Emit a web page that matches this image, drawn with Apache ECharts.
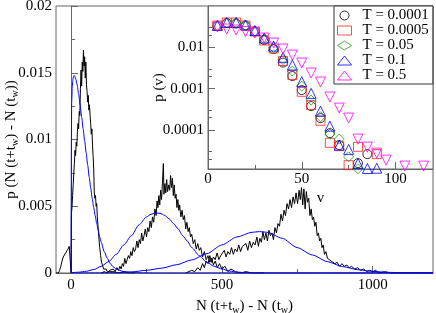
<!DOCTYPE html>
<html>
<head>
<meta charset="utf-8">
<script src="https://cdn.jsdelivr.net/npm/echarts@6/dist/echarts.min.js"></script>
<style>html,body{margin:0;padding:0;background:#fff}#c{width:436px;height:313px}</style>
</head>
<body>
<div id="c"></div>
<script>
// ---------------- main plot data ----------------
const blackA_N = [-50,-42,-38,-34,-30,-26,-22,-18,-14,-10,-6,-3,-1,0,1,3,5,7,9,11,13,15,17,19,21,23,25,27,29,31,33,35,37,39,41,43,45,47,49,51,53,55,57,59,61,63,65,67,69,71,73,75,77,79,81,83,85,87,89,91,93,95,98,101,104,108,112,116,120,126,132,140,150,160,175,190,210];
const blackA_p = [0,0,0.0002,0.0005,0.0009,0.0012,0.0013,0.0015,0.0014,0.0018,0.0020,0.0021,0.0019,0,0.0044,0.0049,0.0058,0.0066,0.0075,0.0082,0.0092,0.0088,0.0098,0.0095,0.0106,0.0112,0.0108,0.0121,0.0118,0.0138,0.0152,0.0140,0.0158,0.0151,0.0167,0.0155,0.0162,0.0146,0.0158,0.0141,0.0136,0.0128,0.0133,0.0122,0.0126,0.0118,0.0112,0.0104,0.0108,0.0096,0.0088,0.0078,0.0060,0.0056,0.0058,0.0050,0.0052,0.0042,0.0036,0.0030,0.0024,0.0019,0.0013,0.0008,0.0006,0.0003,0.0002,0.0003,0.0001,0.0002,0.0001,0.0001,0.00005,0,0.0001,0,0];

const blackB_N = [100,110,120,128,134,140,146,152,157,162,166,170,174,178,182,186,190,194,198,202,206,210,214,218,222,226,230,234,238,242,246,250,254,258,262,266,270,274,278,282,285,288,291,294,297,300,303,306,308,311,314,317,320,324,327,330,333,336,339,342,345,348,351,354,357,360,364,368,372,376,380,384,388,392,396,400,405,410,415,420,425,430,436,442,448,454,460,466,472,478,485,492,500,510,520,530,545,560,580,600,640];
const blackB_p = [0,0.0001,0,0.0002,0.0001,0.0003,0.0001,0.0004,0.0002,0.0005,0.0003,0.0007,0.0005,0.0011,0.0007,0.0010,0.0013,0.0011,0.0016,0.0013,0.0019,0.0016,0.0018,0.0024,0.0019,0.0025,0.0022,0.0030,0.0024,0.0028,0.0033,0.0027,0.0034,0.0031,0.0039,0.0034,0.0042,0.0038,0.0048,0.0043,0.0054,0.0049,0.0058,0.0051,0.0062,0.0055,0.0068,0.0082,0.0059,0.0067,0.0060,0.0070,0.0061,0.0066,0.0062,0.0073,0.0064,0.0071,0.0058,0.0066,0.0056,0.0059,0.0049,0.0055,0.0047,0.0051,0.0042,0.0047,0.0040,0.0043,0.0033,0.0038,0.0031,0.0034,0.0027,0.0029,0.0022,0.0025,0.0018,0.0022,0.0017,0.0019,0.0012,0.0016,0.0010,0.0013,0.0008,0.0011,0.0006,0.0009,0.0004,0.0007,0.0003,0.0005,0.0001,0.0003,0.0001,0,0.0001,0,0];

const blackC_N = [380,400,410,420,428,436,442,448,454,460,466,472,478,484,490,496,502,508,514,520,526,532,538,544,550,556,562,568,574,580,586,592,598,604,610,616,621,626,631,636,641,646,651,656,661,666,671,676,681,686,691,696,701,706,711,716,721,726,731,736,741,746,751,756,760,764,768,772,776,780,784,788,792,796,800,804,808,812,816,820,824,828,832,836,840,845,850,856,862,868,875,882,890,898,906,914,922,930,940,950,960,970,980,990,1000,1010,1020,1040,1060,1200];
const blackC_p = [0,0.0002,0.0001,0.0004,0.0002,0.0007,0.0004,0.0009,0.0007,0.0013,0.0008,0.0012,0.0010,0.0015,0.0010,0.0013,0.0012,0.0017,0.0012,0.0016,0.0014,0.0019,0.0014,0.0018,0.0016,0.0021,0.0016,0.0020,0.0019,0.0022,0.0017,0.0024,0.0019,0.0023,0.0021,0.0027,0.0020,0.0026,0.0023,0.0031,0.0025,0.0030,0.0024,0.0032,0.0028,0.0030,0.0025,0.0034,0.0030,0.0037,0.0035,0.0044,0.0039,0.0047,0.0043,0.0052,0.0048,0.0055,0.0049,0.0057,0.0052,0.0060,0.0052,0.0062,0.0055,0.0064,0.0051,0.0063,0.0048,0.0061,0.0053,0.0056,0.0043,0.0048,0.0040,0.0042,0.0035,0.0038,0.0028,0.0030,0.0024,0.0026,0.0019,0.0021,0.0014,0.0016,0.0011,0.0012,0.0009,0.0010,0.0007,0.0008,0.0005,0.0007,0.0005,0.0006,0.0004,0.0005,0.0003,0.0004,0.0002,0.0003,0.0001,0.0002,0.0001,0.0002,0,0.0001,0,0];

const blueA_N = [0,0.5,1,2,4,6,8,10,13,16,20,25,30,35,40,45,50,55,60,65,70,75,80,85,90,95,100,110,120,130,140,150,160,175,190,210,240,280,350,500,800,1200];
const blueA_p = [0,0.0060,0.0100,0.0128,0.0140,0.0145,0.0147,0.0148,0.0147,0.0145,0.0141,0.0134,0.0126,0.0117,0.0108,0.0099,0.0090,0.0081,0.0072,0.0064,0.0056,0.0049,0.0043,0.0037,0.0032,0.0027,0.0023,0.0016,0.0011,0.0007,0.00045,0.0003,0.0002,0.0001,0.00006,0.00003,0.00001,0,0,0,0,0];

const blueB_N = [0,25,50,75,100,125,150,175,200,225,250,265,280,295,310,325,340,355,370,385,400,425,450,475,500,525,550,575,600,650,700,1200];
const blueB_p = [0.00002,0.00006,0.00013,0.00026,0.0005,0.00086,0.0014,0.0021,0.0028,0.0036,0.0042,0.0044,0.0045,0.00447,0.00432,0.00406,0.0037,0.0033,0.0028,0.0024,0.0019,0.0013,0.0008,0.0005,0.0003,0.00015,0.00007,0.00003,0.00001,0,0,0];

const blueC_N = [0,100,150,200,250,300,350,400,450,500,550,600,625,650,700,750,800,850,900,950,1000,1050,1100,1200];
const blueC_p = [0,0.00001,0.00003,0.00008,0.0002,0.00036,0.00062,0.00098,0.00145,0.0021,0.0027,0.00305,0.0031,0.00305,0.0026,0.0019,0.00135,0.00085,0.00048,0.00025,0.00012,0.00005,0.00002,0];

// ---------------- inset data ----------------
const names = ['T = 0.0001','T = 0.0005','T = 0.05','T = 0.1','T = 0.5'];
const v_T1 = [5,10,15,20,25,30,35,40,45,50,55,60,65,70,80,85];
const p_T1 = [0.0328,0.0387,0.0377,0.0337,0.0242,0.01504,0.0091,0.00428,0.00202,0.000925,0.000379,0.000194,0.0000841,0.0000431,0.0000158,0.0000261];
const v_T2 = [5,10,15,20,25,30,35,40,45,50,55,60,65,70,75,80,90];
const p_T2 = [0.0337,0.0399,0.0399,0.0337,0.0242,0.01462,0.00935,0.00466,0.00213,0.000841,0.000401,0.000167,0.000049,0.0000407,0.0000141,0.0000392,0.0000261];
const v_T3 = [5,10,15,20,25,30,35,40,45,50,55,60,65,70,75,80];
const p_T3 = [0.0328,0.0387,0.0387,0.0337,0.0248,0.0159,0.00989,0.00507,0.00267,0.001156,0.00053,0.000209,0.0000796,0.0000603,0.0000224,0.0000116];
const v_T4 = [5,10,15,20,25,30,35,40,45,50,55,60,65,70,75,80,85,90];
const p_T4 = [0.0337,0.0399,0.0399,0.0347,0.0255,0.0168,0.01074,0.00573,0.00373,0.00147,0.000769,0.000287,0.000124,0.0000431,0.0000339,0.0000155,0.0000117,0.0000119];
const v_T5 = [5,10,15,20,25,30,35,40,45,50,55,60,65,70,75,80,85,90,95,105,115];
const p_T5 = [0.031,0.0277,0.0262,0.0241,0.0222,0.0168,0.0127,0.0091,0.0065,0.00417,0.00239,0.00145,0.000627,0.000339,0.000194,0.0000603,0.0000386,0.0000276,0.0000187,0.0000134,0.0000134];

// tick values
const mainXTicks = [0,500,1000];
const mainXMinor = [250,750];
const insetXTicks = [0,50,100];
const insetXMinor = [25,75];
const insetYTicks = [0.0001,0.001,0.01];
const insetYMinor = [0.00002,0.00003,0.0002,0.0003,0.002,0.003,0.02,0.03];

const zip = (a,b) => a.map((x,i) => [x,b[i]]);
const FONT = "'Liberation Serif', 'Times New Roman', 'DejaVu Serif', serif";
const AX = '#666';

const chart = echarts.init(document.getElementById('c'), null, {renderer:'canvas'});

const richName = {
  m: {fontFamily: FONT, fontSize: 15, lineHeight: 16, verticalAlign: 'top', color: '#000'},
  s: {fontFamily: FONT, fontSize: 10, lineHeight: 10, padding: [8,0,0,0], verticalAlign: 'bottom', color: '#000'}
};

const lbl = {fontFamily: FONT, fontSize: 15, color: '#000'};
const plainNum = v => String(Number(Number(v).toPrecision(4)));

function lineS(name, N, p, color, smooth) {
  return {type:'line', name, xAxisIndex:0, yAxisIndex:0, data: zip(N,p), showSymbol:false, symbol:'none',
    smooth: smooth ? 0.25 : false, smoothMonotone: 'x',
    lineStyle:{color, width:1}, z:2, silent:true};
}
const insetStyle = [
  {color:'#000000', symbol:'circle', size:9, rot:0},
  {color:'#ff2020', symbol:'rect', size:9, rot:0},
  {color:'#1a9a1a', symbol:'diamond', size:10, rot:0},
  {color:'#0000ff', symbol:'triangle', size:10, rot:0},
  {color:'#ff00ff', symbol:'triangle', size:10, rot:180}
];
const insetData = [[v_T1,p_T1],[v_T2,p_T2],[v_T3,p_T3],[v_T4,p_T4],[v_T5,p_T5]];
const scatterSeries = insetData.map((d,i) => ({
  type:'scatter', name:names[i], xAxisIndex:2, yAxisIndex:2, data: zip(d[0],d[1]),
  symbol: insetStyle[i].symbol, symbolSize: insetStyle[i].size, symbolRotate: insetStyle[i].rot,
  itemStyle:{color:'rgba(0,0,0,0)', borderColor: insetStyle[i].color, borderWidth:1},
  z:6, silent:true
}));

const option = {
  animation:false,
  backgroundColor:'#fff',
  grid:[
    {left:56, right:3, top:6, bottom:40, show:true, borderColor:AX, borderWidth:1, backgroundColor:'rgba(0,0,0,0)', containLabel:false, outerBoundsMode:'none'},
    {left:208, right:3, top:6, bottom:144, show:true, borderColor:AX, borderWidth:1, backgroundColor:'#fff', z:3, containLabel:false, outerBoundsMode:'none'}
  ],
  legend:{
    data:names, orient:'vertical', left:334, top:6,
    backgroundColor:'#fff', borderColor:'#333', borderWidth:1, borderRadius:0,
    padding:[2,4,1,3], itemWidth:14, itemHeight:9, itemGap:0,
    textStyle:{fontFamily:FONT, fontSize:15, color:'#000', lineHeight:15, padding:[0,0,0,6]},
    itemStyle:{borderWidth:1},
    selectedMode:false, z:8
  },
  xAxis:[
    {gridIndex:0, type:'value', min:-50, max:1200, position:'bottom',
     axisLine:{lineStyle:{color:AX}}, splitLine:{show:false},
     axisTick:{inside:true, length:7, customValues:mainXTicks, lineStyle:{color:AX}},
     axisLabel:Object.assign({customValues:mainXTicks, margin:5, formatter:plainNum}, lbl),
     name:'{m|N (t+t}{s|w}{m|) - N (t}{s|w}{m|)}', nameLocation:'middle', nameGap:26, nameMoveOverlap:false,
     nameTextStyle:{fontFamily:FONT, fontSize:15, rich:richName}},
    {gridIndex:0, type:'value', min:-50, max:1200, position:'bottom',
     axisLine:{show:false}, splitLine:{show:false}, axisLabel:{show:false},
     axisTick:{inside:true, length:4, customValues:mainXMinor, lineStyle:{color:AX}}},
    {gridIndex:1, type:'value', min:0, max:120, position:'bottom', z:5,
     axisLine:{lineStyle:{color:AX}}, splitLine:{show:false},
     axisTick:{inside:true, length:7, customValues:insetXTicks, lineStyle:{color:AX}},
     axisLabel:Object.assign({customValues:insetXTicks, margin:3, formatter:plainNum}, lbl),
     name:'v', nameLocation:'middle', nameGap:22, nameMoveOverlap:false,
     nameTextStyle:{fontFamily:FONT, fontSize:15, color:'#000'}},
    {gridIndex:1, type:'value', min:0, max:120, position:'bottom', z:5,
     axisLine:{show:false}, splitLine:{show:false}, axisLabel:{show:false},
     axisTick:{inside:true, length:4, customValues:insetXMinor, lineStyle:{color:AX}}}
  ],
  yAxis:[
    {gridIndex:0, type:'value', min:0, max:0.02, interval:0.005, position:'left',
     axisLine:{show:true, lineStyle:{color:AX}}, splitLine:{show:false},
     axisTick:{show:true, inside:true, length:7, lineStyle:{color:AX}},
     minorTick:{show:true, splitNumber:2, length:4, lineStyle:{color:AX}},
     axisLabel:Object.assign({margin:4, formatter:plainNum}, lbl),
     name:'{m|p (N (t+t}{s|w}{m|) - N (t}{s|w}{m|))}', nameLocation:'middle', nameGap:36, nameMoveOverlap:false,
     nameTextStyle:{fontFamily:FONT, fontSize:15, rich:richName}},
    {gridIndex:0, type:'value', min:0, max:0.02, position:'left', show:false},
    {gridIndex:1, type:'log', min:0.0000114, max:0.1, position:'left', z:5,
     axisLine:{show:true, lineStyle:{color:AX}}, splitLine:{show:false},
     axisTick:{show:true, inside:true, length:7, customValues:insetYTicks, lineStyle:{color:AX}},
     axisLabel:Object.assign({customValues:insetYTicks, margin:4, formatter:plainNum}, lbl),
     name:'p (v)', nameLocation:'middle', nameGap:41, nameMoveOverlap:false,
     nameTextStyle:{fontFamily:FONT, fontSize:15, color:'#000'}},
    {gridIndex:1, type:'log', min:0.0000114, max:0.1, position:'left', z:5,
     axisLine:{show:false}, splitLine:{show:false}, axisLabel:{show:false},
     axisTick:{show:true, inside:true, length:4, customValues:insetYMinor, lineStyle:{color:AX}}}
  ],
  series:[
    lineS('a', blackA_N, blackA_p, '#000', false),
    lineS('b', blackB_N, blackB_p, '#000', false),
    lineS('c', blackC_N, blackC_p, '#000', false),
    lineS('A', blueA_N, blueA_p, '#0000ff', true),
    lineS('B', blueB_N, blueB_p, '#0000ff', true),
    lineS('C', blueC_N, blueC_p, '#0000ff', true)
  ].concat(scatterSeries)
};
chart.setOption(option);
</script>
</body>
</html>
